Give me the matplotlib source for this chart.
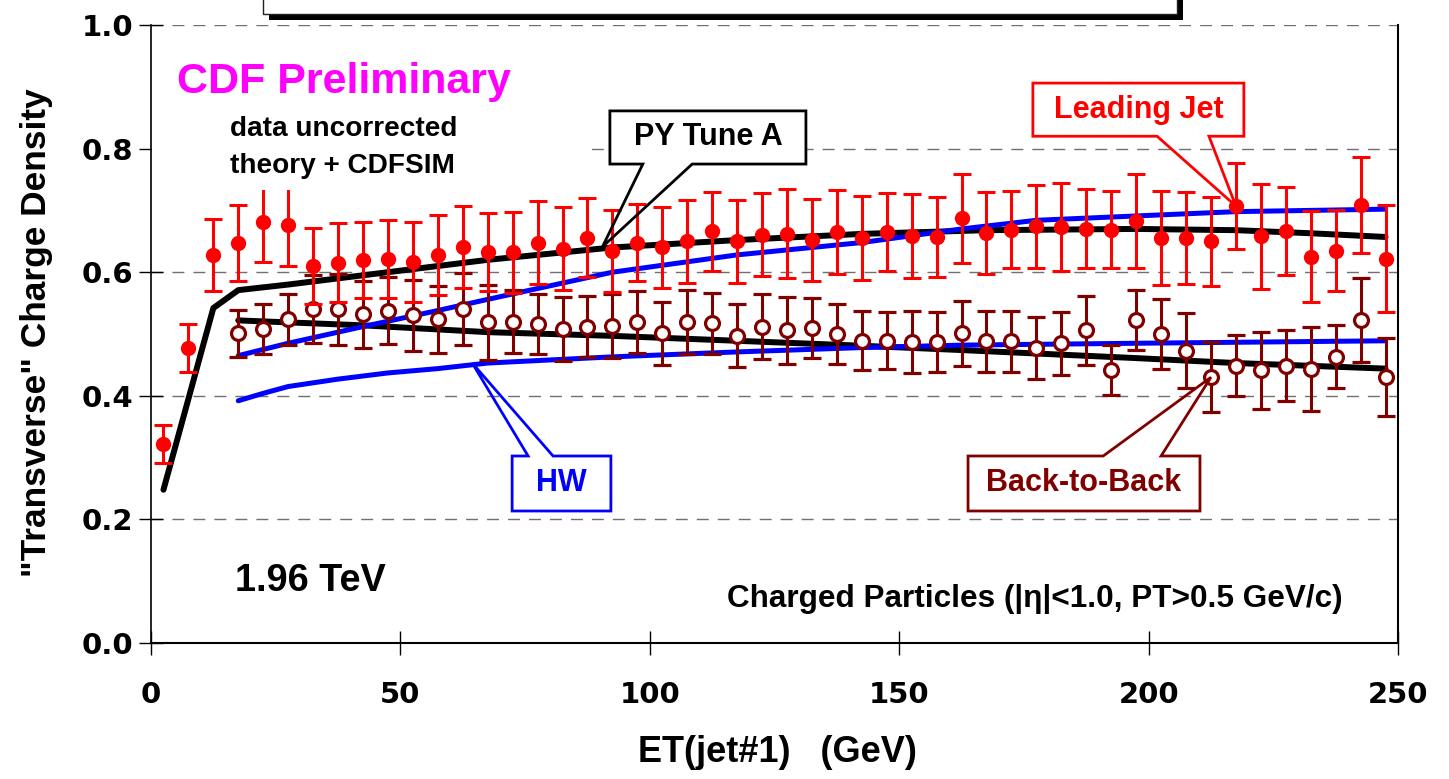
import matplotlib
matplotlib.use("Agg")
import matplotlib.pyplot as plt
from matplotlib.patches import Rectangle, Polygon

plt.rcParams['font.family'] = ['Liberation Sans', 'DejaVu Sans']
plt.rcParams['font.weight'] = 'bold'

# ---- measured "transverse" charge density, leading-jet events ----
lead_et = [2.5, 7.5, 12.5, 17.5, 22.5, 27.5, 32.5, 37.5, 42.5, 47.5,
           52.5, 57.5, 62.5, 67.5, 72.5, 77.5, 82.5, 87.5, 92.5, 97.5,
           102.5, 107.5, 112.5, 117.5, 122.5, 127.5, 132.5, 137.5, 142.5, 147.5,
           152.5, 157.5, 162.5, 167.5, 172.5, 177.5, 182.5, 187.5, 192.5, 197.5,
           202.5, 207.5, 212.5, 217.5, 222.5, 227.5, 232.5, 237.5, 242.5, 247.5]
lead_density = [0.322, 0.477, 0.628, 0.647, 0.682, 0.677, 0.610, 0.615, 0.620, 0.622,
                0.617, 0.628, 0.641, 0.632, 0.632, 0.648, 0.638, 0.656, 0.634, 0.648,
                0.640, 0.650, 0.666, 0.650, 0.661, 0.662, 0.652, 0.665, 0.656, 0.665,
                0.659, 0.657, 0.687, 0.663, 0.669, 0.674, 0.673, 0.670, 0.669, 0.683,
                0.655, 0.655, 0.650, 0.707, 0.658, 0.667, 0.625, 0.635, 0.709, 0.622]
lead_err = [0.031, 0.039, 0.058, 0.061, 0.066, 0.067, 0.061, 0.064, 0.062, 0.063,
            0.065, 0.065, 0.066, 0.063, 0.065, 0.067, 0.067, 0.064, 0.066, 0.062,
            0.065, 0.067, 0.064, 0.067, 0.067, 0.072, 0.067, 0.068, 0.068, 0.063,
            0.068, 0.065, 0.072, 0.066, 0.063, 0.067, 0.071, 0.064, 0.063, 0.076,
            0.076, 0.074, 0.072, 0.069, 0.085, 0.071, 0.074, 0.065, 0.078, 0.087]

# ---- measured "transverse" charge density, back-to-back events ----
b2b_et = [17.5, 22.5, 27.5, 32.5, 37.5, 42.5, 47.5, 52.5, 57.5, 62.5,
          67.5, 72.5, 77.5, 82.5, 87.5, 92.5, 97.5, 102.5, 107.5, 112.5,
          117.5, 122.5, 127.5, 132.5, 137.5, 142.5, 147.5, 152.5, 157.5, 162.5,
          167.5, 172.5, 177.5, 182.5, 187.5, 192.5, 197.5, 202.5, 207.5, 212.5,
          217.5, 222.5, 227.5, 232.5, 237.5, 242.5, 247.5]
b2b_density = [0.501, 0.508, 0.524, 0.541, 0.540, 0.532, 0.538, 0.530, 0.524, 0.540,
               0.519, 0.520, 0.516, 0.508, 0.512, 0.513, 0.519, 0.501, 0.520, 0.517,
               0.497, 0.512, 0.506, 0.510, 0.500, 0.489, 0.489, 0.487, 0.487, 0.501,
               0.488, 0.488, 0.477, 0.485, 0.506, 0.442, 0.523, 0.500, 0.473, 0.430,
               0.449, 0.441, 0.449, 0.443, 0.463, 0.523, 0.431]
b2b_err = [0.038, 0.040, 0.041, 0.055, 0.057, 0.054, 0.054, 0.057, 0.054, 0.058,
           0.061, 0.051, 0.049, 0.052, 0.049, 0.052, 0.050, 0.051, 0.052, 0.049,
           0.051, 0.053, 0.054, 0.049, 0.049, 0.048, 0.046, 0.050, 0.048, 0.052,
           0.050, 0.049, 0.050, 0.051, 0.056, 0.041, 0.049, 0.056, 0.061, 0.057,
           0.050, 0.063, 0.057, 0.068, 0.051, 0.068, 0.063]

# ---- theory + CDFSIM predictions ----
py_lead_et = [2.5, 7.5, 12.5, 17.5, 27.5, 47.5, 67.5, 92.5, 117.5, 142.5,
              167.5, 197.5, 217.5, 232.5, 247.5]
py_lead = [0.248, 0.395, 0.542, 0.571, 0.580, 0.600, 0.620, 0.640, 0.652, 0.662,
           0.668, 0.670, 0.668, 0.663, 0.657]
hw_lead_et = [17.5, 27.5, 42.5, 57.5, 67.5, 92.5, 117.5, 142.5, 162.5, 177.5,
              197.5, 217.5, 247.5]
hw_lead = [0.465, 0.485, 0.512, 0.538, 0.556, 0.600, 0.628, 0.648, 0.670, 0.684,
           0.691, 0.698, 0.702]
py_b2b_et = [17.5, 42.5, 67.5, 92.5, 117.5, 142.5, 162.5, 197.5, 217.5, 247.5]
py_b2b = [0.522, 0.514, 0.503, 0.497, 0.489, 0.481, 0.474, 0.461, 0.453, 0.444]
hw_b2b_et = [17.5, 22.5, 27.5, 37.5, 47.5, 57.5, 67.5, 92.5, 117.5, 142.5,
             162.5, 197.5, 247.5]
hw_b2b = [0.392, 0.404, 0.415, 0.427, 0.437, 0.444, 0.453, 0.463, 0.471, 0.478,
          0.482, 0.485, 0.489]

x_ticks = [0, 50, 100, 150, 200, 250]
y_ticks = [0.0, 0.2, 0.4, 0.6, 0.8, 1.0]

RED = '#ff0000'
DARKRED = '#800000'
BLUE = '#0000ff'
MAGENTA = '#ff00ff'

W, H = 1449, 779
fig = plt.figure(figsize=(W / 100, H / 100), dpi=100)
ax = fig.add_axes([151 / W, 1 - 643 / H, 1247 / W, 618 / H])
ax.set_xlim(0, 250)
ax.set_ylim(0, 1.0)

# dashed horizontal grid
for yv in y_ticks[1:]:
    ax.axhline(yv, color='#707070', lw=1.0, ls=(0, (8.6, 6.5)), zorder=0.5)

# theory curves
ax.plot(py_lead_et, py_lead, color='black', lw=4.3, solid_capstyle='round', zorder=1)
ax.plot(py_b2b_et, py_b2b, color='black', lw=4.3, solid_capstyle='round', zorder=1)
ax.plot(hw_lead_et, hw_lead, color=BLUE, lw=3.6, solid_capstyle='round', zorder=1.2)
ax.plot(hw_b2b_et, hw_b2b, color=BLUE, lw=3.6, solid_capstyle='round', zorder=1.2)

# data
ax.errorbar(b2b_et, b2b_density, yerr=b2b_err, fmt='o', color=DARKRED, ms=10,
            mfc='white', mec=DARKRED, mew=2.3, elinewidth=2.2, capsize=6.3,
            capthick=2.2, zorder=2)
ax.errorbar(lead_et, lead_density, yerr=lead_err, fmt='o', color=RED, ms=10,
            mfc=RED, mec=RED, elinewidth=2.2, capsize=6.5, capthick=2.2, zorder=2.5)

# spines and ticks
ax.spines['top'].set_visible(False)
for s in ('left', 'bottom', 'right'):
    ax.spines[s].set_color('black')
ax.spines['left'].set_linewidth(1.2)
ax.spines['bottom'].set_linewidth(1.5)
ax.spines['right'].set_linewidth(1.5)
ax.set_xticks(x_ticks)
ax.set_xticklabels([str(v) for v in x_ticks])
ax.set_yticks(y_ticks)
ax.set_yticklabels([f'{v:.1f}' for v in y_ticks])
ax.tick_params(axis='both', direction='inout', length=17, width=1,
               labelsize=21, colors='black')
ax.tick_params(axis='y', pad=4.5)
ax.tick_params(axis='x', pad=19)
for lab in ax.get_xticklabels() + ax.get_yticklabels():
    lab.set_fontweight('bold')
    lab.set_fontfamily(['DejaVu Sans'])

fig.text(37 / W, 1 - 333 / H, '"Transverse" Charge Density', rotation=90,
         ha='center', va='center', fontsize=25.4, fontweight='bold')
fig.text(777 / W, 1 - 753 / H, 'ET(jet#1)   (GeV)', ha='center', va='center',
         fontsize=26, fontweight='bold')

# annotation block in the upper left
ax.add_patch(Rectangle((0.3, 0.733), 87.3, 0.245, facecolor='white',
                       edgecolor='none', zorder=4))
ax.text(5.2, 0.890, 'CDF Preliminary', color=MAGENTA, fontsize=31,
        fontweight='bold', ha='left', va='baseline', zorder=5)
ax.text(15.8, 0.820, 'data uncorrected', fontsize=20.2, fontweight='bold',
        ha='left', va='baseline', zorder=5)
ax.text(15.8, 0.761, 'theory + CDFSIM', fontsize=20.2, fontweight='bold',
        ha='left', va='baseline', zorder=5)
ax.text(16.8, 0.084, '1.96 TeV', fontsize=27.3, fontweight='bold',
        ha='left', va='baseline', zorder=5)
ax.text(238.8, 0.058, 'Charged Particles (|\u03b7|<1.0, PT>0.5 GeV/c)',
        fontsize=22.7, fontweight='bold', ha='right', va='baseline', zorder=5)


def callout(box, base, tip, side, color, label):
    x0, x1, y0, y1 = box
    xa, xb = base
    xt, yt = tip
    ax.add_patch(Rectangle((x0, y0), x1 - x0, y1 - y0, facecolor='white',
                           edgecolor='none', zorder=6))
    if side == 'bottom':
        pts = [(x0, y1), (x1, y1), (x1, y0), (xb, y0), (xt, yt), (xa, y0), (x0, y0)]
    else:
        pts = [(x0, y0), (x0, y1), (xa, y1), (xt, yt), (xb, y1), (x1, y1), (x1, y0)]
    ax.add_patch(Polygon(pts, closed=True, facecolor='none', edgecolor=color,
                         lw=2.0, joinstyle='miter', zorder=7, clip_on=False))
    ax.text((x0 + x1) / 2, (y0 + y1) / 2, label, color=color, fontsize=22,
            fontweight='bold', ha='center', va='center', zorder=8)


callout((92.0, 131.3, 0.775, 0.861), (98.6, 108.5), (90.5, 0.641), 'bottom',
        'black', 'PY Tune A')
callout((176.8, 219.1, 0.820, 0.906), (201.7, 212.1), (217.5, 0.707), 'bottom',
        RED, 'Leading Jet')
callout((72.4, 92.2, 0.2136, 0.3026), (75.6, 80.6), (64.4, 0.453), 'top',
        BLUE, 'HW')
callout((163.8, 210.3, 0.2136, 0.3026), (190.9, 202.5), (212.5, 0.430), 'top',
        DARKRED, 'Back-to-Back')

# title frame with drop shadow at the top edge
fig.patches.append(Rectangle((269 / W, 1 - 20 / H), 914 / W, 0.1,
                             transform=fig.transFigure, facecolor='black',
                             edgecolor='none', zorder=1))
fig.patches.append(Rectangle((263 / W, 1 - 14 / H), 914 / W, 0.1,
                             transform=fig.transFigure, facecolor='white',
                             edgecolor='#202020', lw=1.0, zorder=2))

fig.savefig('out.png', dpi=100)
